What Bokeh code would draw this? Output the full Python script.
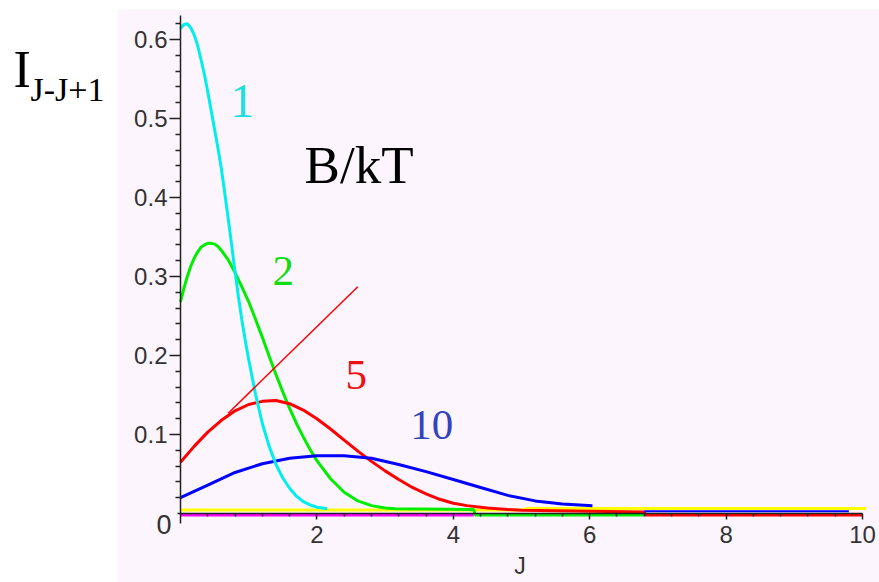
from bokeh.plotting import figure
from bokeh.models import Range1d, FixedTicker, Label, BoxAnnotation
from bokeh.embed import file_html
from bokeh.resources import INLINE

# ---- data ----
cyan_j = [0.0, 0.05, 0.10, 0.15, 0.20, 0.25, 0.30, 0.35, 0.40, 0.45, 0.50, 0.55, 0.60, 0.65, 0.70,
          0.75, 0.80, 0.85, 0.90, 0.95, 1.00, 1.10, 1.20, 1.30, 1.40, 1.50, 1.60, 1.70, 1.80, 1.90, 2.00, 2.15]
cyan_i = [0.614, 0.619, 0.620, 0.615, 0.606, 0.593, 0.575, 0.556, 0.534, 0.510, 0.486, 0.462, 0.436, 0.405, 0.373,
          0.340, 0.306, 0.274, 0.245, 0.219, 0.195, 0.151, 0.114, 0.085, 0.062, 0.045, 0.032, 0.022, 0.015, 0.011, 0.008, 0.006]

green_j = [0.0, 0.05, 0.10, 0.15, 0.20, 0.25, 0.30, 0.35, 0.40, 0.45, 0.50, 0.55, 0.60, 0.70, 0.80, 0.90,
           1.00, 1.10, 1.20, 1.30, 1.40, 1.50, 1.60, 1.70, 1.80, 1.90, 2.00, 2.20, 2.40, 2.60, 2.80, 3.00,
           3.15, 4.30, 4.32, 6.80]
green_i = [0.268, 0.285, 0.300, 0.313, 0.323, 0.331, 0.337, 0.340, 0.342, 0.342, 0.341, 0.338, 0.333, 0.321, 0.305, 0.287,
           0.268, 0.246, 0.223, 0.199, 0.176, 0.154, 0.133, 0.114, 0.097, 0.081, 0.067, 0.044, 0.027, 0.016, 0.010, 0.007,
           0.006, 0.005, -0.002, -0.002]

red_j = [0.0, 0.2, 0.4, 0.6, 0.8, 1.0, 1.2, 1.4, 1.6, 1.8, 2.0, 2.2, 2.4, 2.6, 2.8, 3.0, 3.2, 3.4,
         3.6, 3.8, 4.0, 4.2, 4.5, 4.8, 5.0, 6.8, 6.82, 10.0]
red_i = [0.065, 0.085, 0.103, 0.118, 0.130, 0.138, 0.142, 0.143, 0.139, 0.131, 0.120, 0.107, 0.093, 0.079, 0.066, 0.054, 0.043, 0.033,
         0.025, 0.018, 0.013, 0.010, 0.007, 0.005, 0.004, 0.002, -0.002, -0.002]

blue_j = [0.0, 0.4, 0.8, 1.2, 1.6, 2.0, 2.4, 2.8, 3.2, 3.6, 4.0, 4.4, 4.8, 5.2, 5.6, 6.04]
blue_i = [0.020, 0.036, 0.052, 0.063, 0.070, 0.073, 0.073, 0.070, 0.062, 0.053, 0.043, 0.033, 0.023, 0.016, 0.012, 0.010]
blue_tail_j = [6.8, 9.8]
blue_tail_i = [0.003, 0.003]

magenta_j = [0.0, 4.3]
magenta_i = [-0.002, -0.002]

yellow_j = [0.0, 5.0, 5.1, 10.05]
yellow_i = [0.0045, 0.0045, 0.0065, 0.0065]

tangent_j = [0.70, 2.60]
tangent_i = [0.127, 0.287]

x_major = [2, 4, 6, 8, 10]
y_major = [0.1, 0.2, 0.3, 0.4, 0.5, 0.6]
x_minor = [round(k * 0.4, 2) for k in range(1, 25) if k % 5 != 0]
y_minor = [round(k * 0.02, 2) for k in range(1, 32) if k % 5 != 0]

# curve labels (B/kT values); y is the vertical middle of the text
curve_labels = ["1", "2", "5", "10"]
label_j = [0.73, 1.35, 2.42, 3.37]
label_i = [0.522, 0.307, 0.175, 0.112]
label_colors = ["#22dddd", "#11dd11", "#ee1111", "#3344bb"]
label_sizes = ["48px", "43px", "43px", "43px"]

p = figure(width=879, height=582, output_backend="svg", toolbar_location=None,
           x_range=Range1d(-2.639, 10.249), y_range=Range1d(-0.0873, 0.6494),
           min_border_left=0, min_border_top=0, min_border_right=0, min_border_bottom=0,
           background_fill_color="white", border_fill_color="white",
           outline_line_color=None)
p.grid.visible = False

# pink plotting area
p.add_layout(BoxAnnotation(left=-0.924, right=11, top=0.638, bottom=-0.2,
                           fill_color="#fdf5fd", fill_alpha=1, line_color=None, level="underlay"))

ax_col = "#222222"
for ax in (p.xaxis[0], p.yaxis[0]):
    ax.fixed_location = 0
    ax.axis_line_color = ax_col
    ax.axis_line_width = 1.5
    ax.major_tick_line_color = ax_col
    ax.minor_tick_line_color = ax_col
    ax.major_tick_line_width = 1.5
    ax.minor_tick_line_width = 1.5
    ax.major_tick_in = 0
    ax.minor_tick_in = 0
    ax.major_label_text_font = "Liberation Sans"
    ax.major_label_text_font_size = "24px"
    ax.major_label_text_color = "#333333"

xa = p.xaxis[0]
xa.bounds = (-0.04, 10)
xa.ticker = FixedTicker(ticks=x_major, minor_ticks=x_minor)
xa.major_tick_out = 6
xa.minor_tick_out = 3
xa.major_label_standoff = 6
xa.axis_label = "J"
xa.axis_label_text_font = "Liberation Sans"
xa.axis_label_text_font_size = "23px"
xa.axis_label_text_font_style = "normal"
xa.axis_label_text_color = "#333333"
xa.axis_label_standoff = 7

ya = p.yaxis[0]
ya.bounds = (-0.0127, 0.63)
ya.ticker = FixedTicker(ticks=y_major, minor_ticks=y_minor)
ya.major_tick_out = 11
ya.minor_tick_out = 5
ya.major_label_standoff = 2

# near-zero traces first
p.line(yellow_j, yellow_i, line_color="#ffff00", line_width=3)
p.line(magenta_j, magenta_i, line_color="#ff00ff", line_width=3)
p.line(green_j, green_i, line_color="#00ee00", line_width=3)
p.line(red_j, red_i, line_color="#ff0000", line_width=3)
p.line(blue_j, blue_i, line_color="#0000ff", line_width=3)
p.line(blue_tail_j, blue_tail_i, line_color="#0000ff", line_width=2)
p.line(cyan_j, cyan_i, line_color="#00eeee", line_width=3)
p.line(tangent_j, tangent_i, line_color="#ff0000", line_width=1.5)

for t, xj, yi, c, s in zip(curve_labels, label_j, label_i, label_colors, label_sizes):
    p.add_layout(Label(x=xj, y=yi, text=t, text_color=c, text_font="Liberation Serif",
                       text_font_size=s, text_baseline="middle", text_align="left"))

p.add_layout(Label(x=1.82, y=0.4416, text="B/kT", text_color="black", text_font="Liberation Serif",
                   text_font_size="53px", text_baseline="middle", text_align="left"))
p.add_layout(Label(x=-2.449, y=0.5615, text="I", text_color="black", text_font="Liberation Serif",
                   text_font_size="52px", text_baseline="middle", text_align="left"))
p.add_layout(Label(x=-2.2, y=0.5373, text="J-J+1", text_color="black", text_font="Liberation Serif",
                   text_font_size="34px", text_baseline="middle", text_align="left"))
p.add_layout(Label(x=0, y=0, text="0", text_color="#333333", text_font="Liberation Sans",
                   text_font_size="27px", text_baseline="middle", text_align="right",
                   x_offset=-9, y_offset=-11))

open("out.html", "w").write(file_html(p, INLINE))
